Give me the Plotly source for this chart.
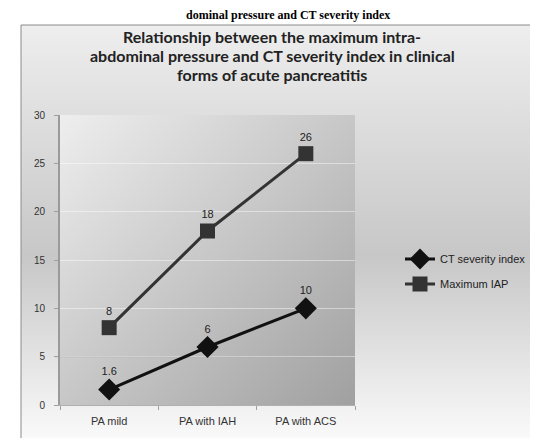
import base64
import plotly.graph_objects as go

# ---- data ----
categories = ["PA mild", "PA with IAH", "PA with ACS"]
ct_index = [1.6, 6, 10]
max_iap = [8, 18, 26]
ct_labels = ["1.6", "6", "10"]
iap_labels = ["8", "18", "26"]
y_ticks = [0, 5, 10, 15, 20, 25, 30]
series_names = ["CT severity index", "Maximum IAP"]
title_lines = ["Relationship between the maximum intra-",
               "abdominal pressure and CT severity index in clinical",
               "forms of acute pancreatitis"]
caption_text = "dominal pressure and CT severity index"

# ---- layout geometry (pixels) ----
W, H = 538, 438
L, R, T, B = 52, 347, 107, 397


def px(x):
    return (x - L) / (R - L)


def py(y):
    return (B - y) / (B - T)


def svg_uri(svg):
    return "data:image/svg+xml;base64," + base64.b64encode(svg.encode()).decode()


BX0, BY0, BX1, BY1 = 13, 17, 537, 436
bw, bh = BX1 - BX0, BY1 - BY0
box_svg = (
    f'<svg xmlns="http://www.w3.org/2000/svg" width="{bw}" height="{bh}" '
    f'viewBox="0 0 {bw} {bh}" preserveAspectRatio="none"><defs>'
    '<linearGradient id="g" x1="0" y1="0" x2="0" y2="1">'
    '<stop offset="0" stop-color="#eeeeee"/>'
    '<stop offset="0.55" stop-color="#c7c7c7"/>'
    '<stop offset="1" stop-color="#fbfbfb"/>'
    '</linearGradient></defs>'
    f'<rect width="{bw}" height="{bh}" fill="url(#g)"/></svg>'
)
pw, ph = R - L, B - T
plot_svg = (
    f'<svg xmlns="http://www.w3.org/2000/svg" width="{pw}" height="{ph}" '
    f'viewBox="0 0 {pw} {ph}" preserveAspectRatio="none"><defs>'
    '<linearGradient id="p" x1="0" y1="0" x2="1" y2="1">'
    '<stop offset="0" stop-color="#eeeeee"/>'
    '<stop offset="1" stop-color="#a0a0a0"/>'
    '</linearGradient></defs>'
    f'<rect width="{pw}" height="{ph}" fill="url(#p)"/></svg>'
)

fig = go.Figure()
fig.add_trace(go.Scatter(
    x=categories, y=ct_index, name=series_names[0],
    mode="lines+markers+text", text=ct_labels, textposition="top center",
    textfont=dict(family="Liberation Sans", size=11, color="#222"),
    line=dict(color="#111111", width=3),
    marker=dict(symbol="diamond", size=17, color="#111111"),
    legend="legend", showlegend=True,
))
fig.add_trace(go.Scatter(
    x=categories, y=max_iap, name=series_names[1],
    mode="lines+markers+text", text=iap_labels, textposition="top center",
    textfont=dict(family="Liberation Sans", size=11, color="#222"),
    line=dict(color="#333333", width=3),
    marker=dict(symbol="square", size=15, color="#333333"),
    legend="legend2", showlegend=True,
))

legend_style = dict(xanchor="left", yanchor="middle", bgcolor="rgba(0,0,0,0)",
                    font=dict(size=11, color="#222"), itemwidth=30,
                    tracegroupgap=0, visible=True)

title_annotations = [
    dict(text="<b>" + line + "</b>", xref="paper", yref="paper",
         x=px(264), y=py(28 + 19.5 * i), xanchor="center", yanchor="middle",
         showarrow=False, font=dict(family="Lato", size=16, color="#222"))
    for i, line in enumerate(title_lines)
]

fig.update_layout(
    width=W, height=H,
    showlegend=True,
    margin=dict(l=L, r=W - R, t=T, b=H - B, pad=0),
    paper_bgcolor="white",
    plot_bgcolor="rgba(0,0,0,0)",
    font=dict(family="Liberation Sans", color="#333"),
    xaxis=dict(
        type="category", range=[-0.5, 2.5], showgrid=False,
        showline=True, linecolor="#b0b0b0", linewidth=1,
        ticks="outside", tickson="boundaries", ticklen=4, tickcolor="#a0a0a0",
        tickfont=dict(size=11, color="#333"), ticklabelstandoff=6,
    ),
    yaxis=dict(
        range=[0, 30], tickvals=y_ticks, showgrid=True,
        gridcolor="rgba(255,255,255,0.45)", gridwidth=1, zeroline=False,
        showline=True, linecolor="#9a9a9a", linewidth=2,
        ticks="outside", ticklen=4, tickcolor="#a0a0a0",
        tickfont=dict(size=10, color="#333"), ticklabelstandoff=7,
    ),
    legend=dict(x=px(392), y=py(251), **legend_style),
    legend2=dict(x=px(392), y=py(276), **legend_style),
    images=[
        dict(source=svg_uri(box_svg), xref="paper", yref="paper",
             x=px(BX0), y=py(BY0), sizex=px(BX1) - px(BX0), sizey=py(BY0) - py(BY1),
             xanchor="left", yanchor="top", sizing="stretch", layer="below"),
        dict(source=svg_uri(plot_svg), xref="paper", yref="paper",
             x=0, y=1, sizex=1, sizey=1,
             xanchor="left", yanchor="top", sizing="stretch", layer="below"),
    ],
    shapes=[
        dict(type="rect", xref="paper", yref="paper",
             x0=px(BX0), x1=px(BX1), y0=py(BY1), y1=py(BY0),
             line=dict(color="#8a8a8a", width=1), layer="below"),
        dict(type="line", xref="paper", yref="paper",
             x0=px(BX0), x1=px(BX1), y0=py(BY1), y1=py(BY1),
             line=dict(color="#111", width=2), layer="above"),
        dict(type="line", xref="paper", yref="y",
             x0=px(47), x1=1, y0=y_ticks[1], y1=y_ticks[1],
             line=dict(color="#a4a4a4", width=1), layer="below"),
    ],
    annotations=title_annotations + [
        dict(text="<b>" + caption_text + "</b>", xref="paper", yref="paper",
             x=px(384), y=py(16), xanchor="right", yanchor="bottom",
             showarrow=False,
             font=dict(family="Liberation Serif", size=12, color="#000")),
    ],
)

fig.write_html("out.html")
